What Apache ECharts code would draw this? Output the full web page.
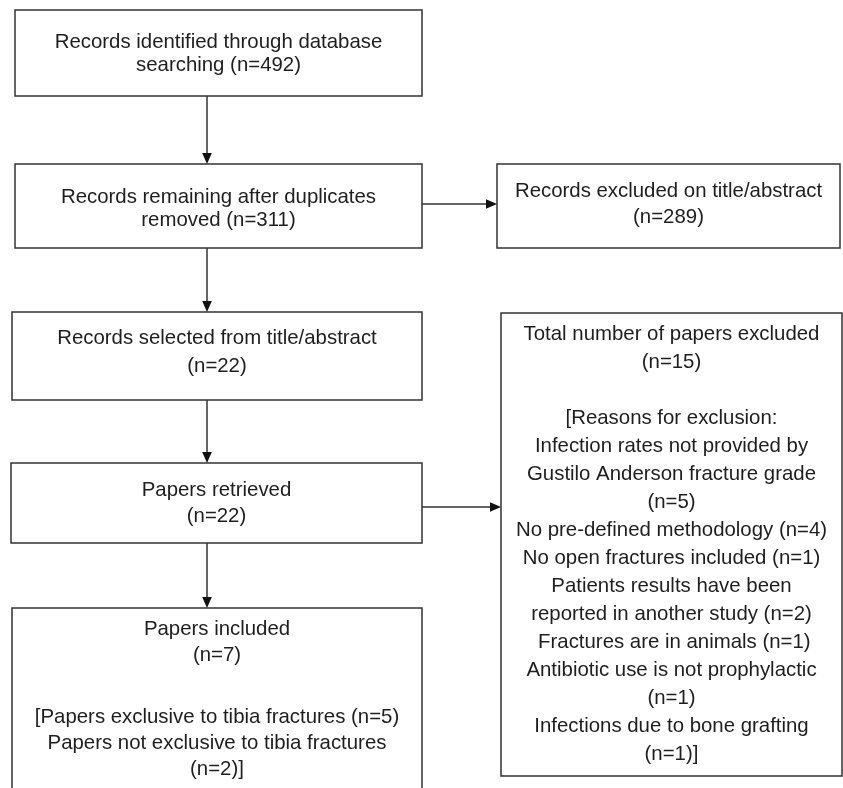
<!DOCTYPE html>
<html>
<head>
<meta charset="utf-8">
<style>
html,body{margin:0;padding:0;background:#fff;}
#chart{width:843px;height:788px;}
</style>
<script src="https://cdn.jsdelivr.net/npm/echarts@6/dist/echarts.min.js"></script>
</head>
<body>
<div id="chart"></div>
<script>
// ---- content ----
var boxTexts = [
  "Records identified through database\nsearching (n=492)",
  "Records remaining after duplicates\nremoved (n=311)",
  "Records excluded on title/abstract\n(n=289)",
  "Records selected from title/abstract\n(n=22)",
  "Papers retrieved\n(n=22)",
  "Total number of papers excluded\n(n=15)\n\n[Reasons for exclusion:\nInfection rates not provided by\nGustilo Anderson fracture grade\n(n=5)\nNo pre-defined methodology (n=4)\nNo open fractures included (n=1)\nPatients results have been\nreported in another study (n=2)\n Fractures are in animals (n=1)\nAntibiotic use is not prophylactic\n(n=1)\nInfections due to bone grafting\n(n=1)]",
  "Papers included\n(n=7)\n\n[Papers exclusive to tibia fractures (n=5)\nPapers not exclusive to tibia fractures\n(n=2)]"
];
// ---- layout (box corners in canvas units) ----
var boxX0 = [15, 15, 497, 12, 11, 501, 12];
var boxY0 = [10, 164, 164, 312, 463, 313, 608];
var boxX1 = [422, 422, 840, 422, 422, 842, 422];
var boxY1 = [96, 248, 248, 400, 543, 776, 800];
var firstLine = [32, 33, 27, 26, 27, 21, 21];
var lineH = [23.5, 23.5, 26, 28, 26, 28, 26];
var blankH = [0, 0, 0, 0, 0, 28, 36];
// arrows: from -> to
var arrowFromX = [207, 207, 207, 207, 422, 422];
var arrowFromY = [96, 248, 400, 543, 204, 507];
var arrowToX = [207, 207, 207, 207, 497, 501];
var arrowToY = [164, 312, 463, 608, 204, 507];

var boxData = boxTexts.map(function (t, i) {
  return [boxX0[i], boxY0[i], boxX1[i], boxY1[i], i];
});
var arrowData = arrowFromX.map(function (v, i) {
  return [arrowFromX[i], arrowFromY[i], arrowToX[i], arrowToY[i]];
});

var FONT = '"Liberation Sans", Arial, Helvetica, sans-serif';
var LINE = '#333333';

var chart = echarts.init(document.getElementById('chart'), null, {renderer: 'canvas'});
chart.setOption({
  animation: false,
  backgroundColor: '#ffffff',
  grid: {left: 0, right: 0, top: 0, bottom: 0},
  xAxis: {type: 'value', min: 0, max: 843, show: false},
  yAxis: {type: 'value', min: 0, max: 788, inverse: true, show: false},
  series: [
    {
      type: 'custom',
      clip: false,
      encode: {x: [0, 2], y: [1, 3]},
      data: boxData,
      renderItem: function (params, api) {
        var i = api.value(4);
        var p0 = api.coord([api.value(0), api.value(1)]);
        var p1 = api.coord([api.value(2), api.value(3)]);
        var children = [{
          type: 'rect',
          shape: {x: p0[0], y: p0[1], width: p1[0] - p0[0], height: p1[1] - p0[1]},
          style: {fill: '#ffffff', stroke: LINE, lineWidth: 1.5}
        }];
        var cx = (p0[0] + p1[0]) / 2;
        var lines = boxTexts[i].split('\n');
        var y = p0[1] + firstLine[i];
        for (var k = 0; k < lines.length; k++) {
          if (lines[k] === '') { y += blankH[i]; continue; }
          children.push({
            type: 'text',
            style: {
              text: lines[k], x: cx, y: y,
              align: 'center', verticalAlign: 'middle',
              fill: '#1e1e1e', font: '20.4px ' + FONT
            }
          });
          y += lineH[i];
        }
        return {type: 'group', children: children};
      }
    },
    {
      type: 'custom',
      clip: false,
      encode: {x: [0, 2], y: [1, 3]},
      data: arrowData,
      renderItem: function (params, api) {
        var a = api.coord([api.value(0), api.value(1)]);
        var b = api.coord([api.value(2), api.value(3)]);
        var dx = b[0] - a[0], dy = b[1] - a[1];
        var len = Math.sqrt(dx * dx + dy * dy);
        var ux = dx / len, uy = dy / len;
        var hl = 11, hw = 4.8;
        var bx = b[0] - ux * hl, by = b[1] - uy * hl;
        return {
          type: 'group',
          children: [
            {type: 'line', shape: {x1: a[0], y1: a[1], x2: bx, y2: by},
             style: {stroke: LINE, lineWidth: 1.5}},
            {type: 'polygon', shape: {points: [[b[0], b[1]], [bx - uy * hw, by + ux * hw], [bx + uy * hw, by - ux * hw]]},
             style: {fill: '#111111'}}
          ]
        };
      }
    }
  ]
});
</script>
</body>
</html>
